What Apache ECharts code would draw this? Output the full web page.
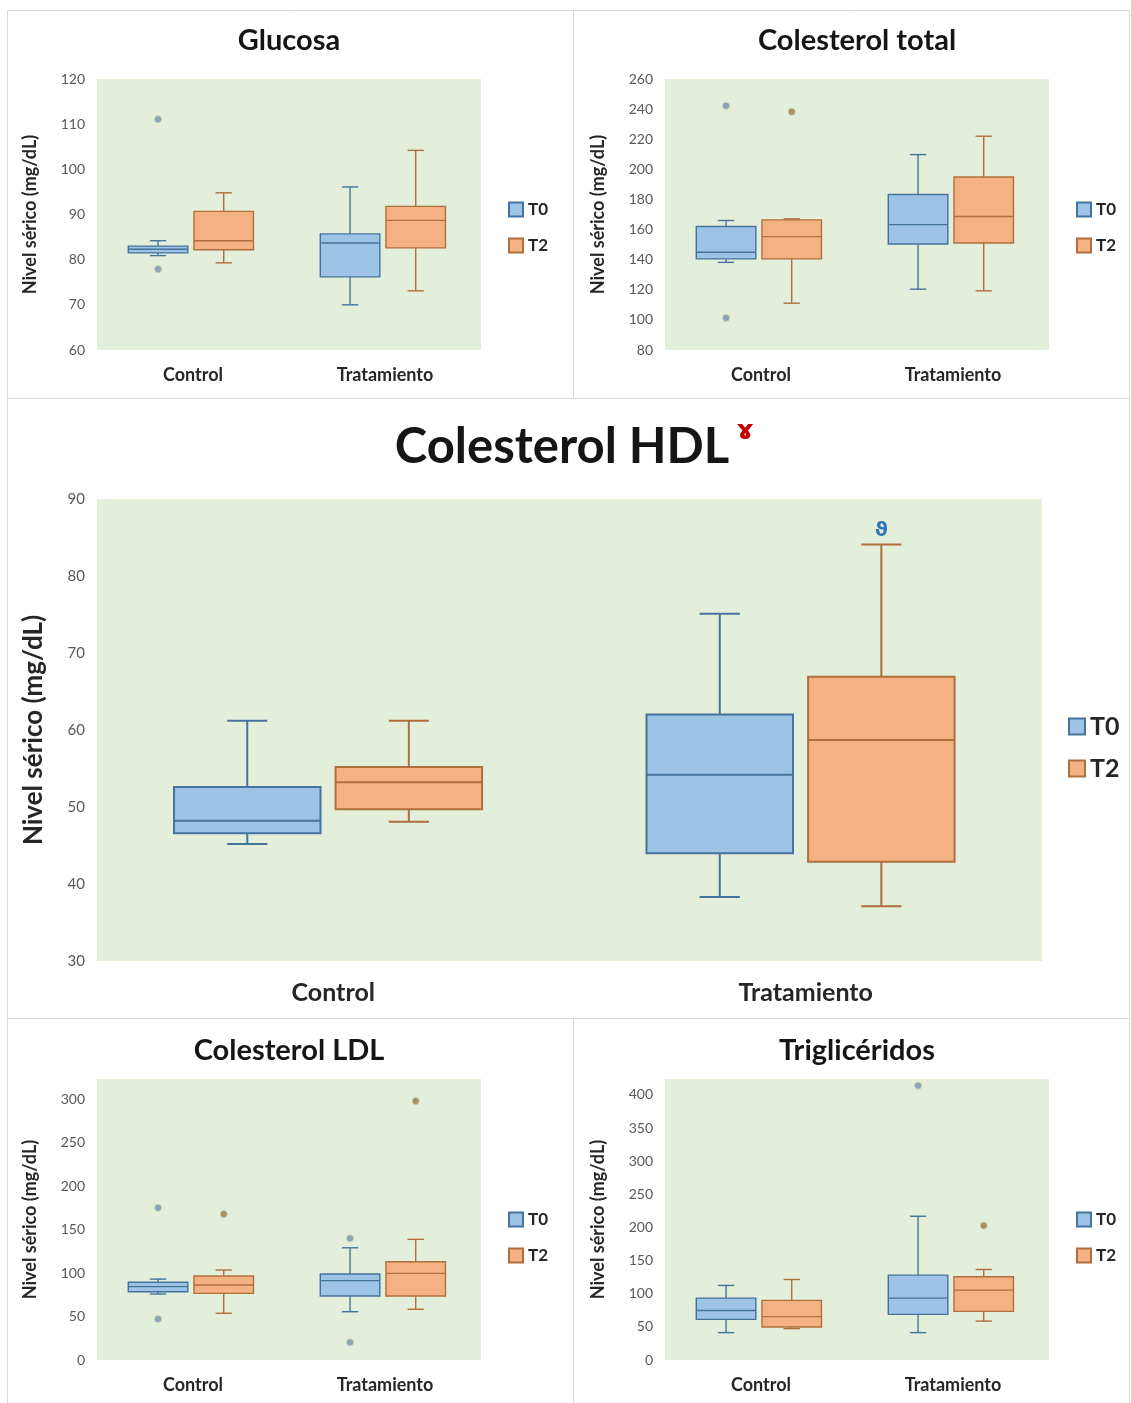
<!DOCTYPE html>
<html>
<head>
<meta charset="utf-8">
<script src="https://cdn.jsdelivr.net/npm/echarts@6/dist/echarts.min.js"></script>
<style>
  html, body { margin: 0; padding: 0; background: #ffffff; }
  #chart { width: 1131px; height: 1403px; }
</style>
</head>
<body>
<div id="chart"></div>
<script>
// ---------------- DATA ----------------
const categories = ['Control', 'Tratamiento'];
const seriesNames = ['T0', 'T2'];
const axisName = 'Nivel sérico (mg/dL)';

// Each box: [min, Q1, median, Q3, max], one per category
const glucosaT0 = [[80.9, 81.5, 82.3, 83.0, 84.2], [70.0, 76.2, 83.7, 85.7, 96.1]];
const glucosaT2 = [[79.3, 82.2, 84.2, 90.7, 94.8], [73.1, 82.6, 88.7, 91.8, 104.2]];
const glucosaT0Out = [[0, 111.1], [0, 77.9]];
const glucosaT2Out = [];

const colTotalT0 = [[138.2, 140.5, 144.9, 162.0, 166.0], [120.4, 150.4, 163.3, 183.3, 209.8]];
const colTotalT2 = [[111.1, 140.5, 155.3, 166.4, 167.1], [119.3, 151.1, 168.7, 194.9, 222.0]];
const colTotalT0Out = [[0, 242.2], [0, 101.3]];
const colTotalT2Out = [[0, 238.2]];

const hdlT0 = [[45.2, 46.6, 48.2, 52.6, 61.2], [38.3, 44.0, 54.2, 62.0, 75.1]];
const hdlT2 = [[48.1, 49.7, 53.2, 55.2, 61.2], [37.1, 42.9, 58.7, 66.9, 84.1]];
const hdlMark = [[1, 84.1, 'ϑ']];

const ldlT0 = [[75.9, 78.5, 84.3, 89.3, 93.0], [55.5, 73.6, 91.2, 98.9, 129.0]];
const ldlT2 = [[53.7, 76.6, 86.2, 96.6, 103.4], [58.3, 73.6, 99.6, 113.0, 138.7]];
const ldlT0Out = [[0, 175.0], [0, 47.1], [1, 139.9], [1, 20.3]];
const ldlT2Out = [[0, 167.8], [1, 297.7]];

const trigT0 = [[41.3, 61.3, 74.8, 93.4, 112.5], [41.3, 68.8, 93.4, 128.0, 216.9]];
const trigT2 = [[47.3, 49.7, 65.4, 89.9, 121.5], [58.7, 73.3, 105.4, 125.6, 136.6]];
const trigT0Out = [[1, 414.0]];
const trigT2Out = [[1, 202.9]];

// Axis ranges: [min, max, interval]
const glucosaAxis = [60, 120, 10];
const colTotalAxis = [80, 260, 20];
const hdlAxis = [30, 90, 10];
const ldlAxis = [0, 323, 50];
const trigAxis = [0, 424, 50];

const titles = ['Glucosa', 'Colesterol total', 'Colesterol HDL', 'Colesterol LDL', 'Triglicéridos'];
const titleMark = 'ɤ';

// ---------------- STYLE ----------------
const FONT = 'Lato, "Open Sans", sans-serif';
const GREEN = '#E3EFDA';
const T0_FILL = '#9DC3E6', T0_STROKE = '#44739C';
const T2_FILL = '#F4B183', T2_STROKE = '#AE6F3D';
const T0_OUT = '#8AA3B8', T2_OUT = '#A88D5E';
const OFF = [-0.182, 0.16];
const BOX_W = 0.31;
const CAP_W = 0.085;

function boxRenderer(offFrac, fill, stroke, lw) {
  return function (params, api) {
    const cat = api.value(0);
    const band = api.size([1, 0])[0];
    const cx = api.coord([cat, api.value(3)])[0] + offFrac * band;
    const w = BOX_W * band, cap = CAP_W * band;
    const y = i => api.coord([cat, api.value(i)])[1];
    const yMin = y(1), yQ1 = y(2), yMed = y(3), yQ3 = y(4), yMax = y(5);
    const ls = { stroke: stroke, lineWidth: lw };
    return {
      type: 'group',
      children: [
        { type: 'line', shape: { x1: cx, y1: yMax, x2: cx, y2: yQ3 }, style: ls },
        { type: 'line', shape: { x1: cx, y1: yQ1, x2: cx, y2: yMin }, style: ls },
        { type: 'line', shape: { x1: cx - cap / 2, y1: yMax, x2: cx + cap / 2, y2: yMax }, style: ls },
        { type: 'line', shape: { x1: cx - cap / 2, y1: yMin, x2: cx + cap / 2, y2: yMin }, style: ls },
        { type: 'rect', shape: { x: cx - w / 2, y: yQ3, width: w, height: yQ1 - yQ3 },
          style: { fill: fill, stroke: stroke, lineWidth: lw } },
        { type: 'line', shape: { x1: cx - w / 2, y1: yMed, x2: cx + w / 2, y2: yMed }, style: ls }
      ]
    };
  };
}

function outRenderer(offFrac, fill, r) {
  return function (params, api) {
    const cat = api.value(0);
    const band = api.size([1, 0])[0];
    const p = api.coord([cat, api.value(1)]);
    return {
      type: 'circle',
      shape: { cx: p[0] + offFrac * band, cy: p[1], r: r },
      style: { fill: fill, stroke: '#C9D6C0', lineWidth: 1 }
    };
  };
}

function markRenderer(offFrac) {
  return function (params, api) {
    const cat = api.value(0);
    const band = api.size([1, 0])[0];
    const p = api.coord([cat, api.value(1)]);
    return {
      type: 'text',
      x: p[0] + offFrac * band, y: p[1] - 14,
      style: { text: hdlMark[params.dataIndex][2], fill: '#2E75B6', font: 'bold 20px "DejaVu Sans", sans-serif',
               align: 'center', verticalAlign: 'middle' }
    };
  };
}

// ---------------- PANELS ----------------
const panels = [
  { g: { left: 97, top: 79, width: 384, height: 271 }, axis: glucosaAxis, t0: glucosaT0, t2: glucosaT2, o0: glucosaT0Out, o2: glucosaT2Out, big: false, legend: { left: 508, top: 201 } },
  { g: { left: 665, top: 79, width: 384, height: 271 }, axis: colTotalAxis, t0: colTotalT0, t2: colTotalT2, o0: colTotalT0Out, o2: colTotalT2Out, big: false, legend: { left: 1076, top: 201 } },
  { g: { left: 97, top: 499, width: 945, height: 462 }, axis: hdlAxis, t0: hdlT0, t2: hdlT2, o0: [], o2: [], big: true, legend: { left: 1068, top: 714 } },
  { g: { left: 97, top: 1079, width: 384, height: 281 }, axis: ldlAxis, t0: ldlT0, t2: ldlT2, o0: ldlT0Out, o2: ldlT2Out, big: false, legend: { left: 508, top: 1211 } },
  { g: { left: 665, top: 1079, width: 384, height: 281 }, axis: trigAxis, t0: trigT0, t2: trigT2, o0: trigT0Out, o2: trigT2Out, big: false, legend: { left: 1076, top: 1211 } }
];

const grid = [], xAxis = [], yAxis = [], series = [], legend = [];
panels.forEach((p, i) => {
  grid.push(Object.assign({ show: true, backgroundColor: GREEN, borderWidth: 0 }, p.g));
  xAxis.push({
    type: 'category', gridIndex: i, data: categories,
    axisLine: { show: false }, axisTick: { show: false }, splitLine: { show: false },
    axisLabel: { color: '#262626', fontFamily: FONT, fontWeight: 'bold',
                 fontSize: p.big ? 25 : 18, margin: p.big ? 19 : 16 }
  });
  yAxis.push({
    type: 'value', gridIndex: i, min: p.axis[0], max: p.axis[1], interval: p.axis[2],
    name: axisName, nameLocation: 'middle', nameRotate: 90, nameGap: p.big ? 50 : 58,
    nameTextStyle: { color: '#262626', fontFamily: FONT, fontWeight: 'bold', fontSize: p.big ? 26 : 18 },
    axisLine: { show: false }, axisTick: { show: false }, splitLine: { show: false },
    axisLabel: { color: '#595959', fontFamily: FONT, fontSize: p.big ? 15 : 14, margin: 12,
                 showMaxLabel: p.axis[1] % p.axis[2] === 0 }
  });
  const lw = p.big ? 2 : 1.4;
  [[p.t0, 0, T0_FILL, T0_STROKE], [p.t2, 1, T2_FILL, T2_STROKE]].forEach(([arr, k, fill, stroke]) => {
    series.push({
      type: 'custom', name: seriesNames[k], xAxisIndex: i, yAxisIndex: i,
      itemStyle: { color: fill, borderColor: stroke, borderWidth: 1 },
      encode: { x: 0, y: [1, 2, 3, 4, 5] },
      data: arr.map((d, c) => [c].concat(d)),
      renderItem: boxRenderer(OFF[k], fill, stroke, lw),
      silent: true
    });
  });
  [[p.o0, 0, T0_OUT], [p.o2, 1, T2_OUT]].forEach(([arr, k, fill]) => {
    if (!arr.length) return;
    series.push({
      type: 'custom', name: seriesNames[k] + ' atípicos', xAxisIndex: i, yAxisIndex: i,
      encode: { x: 0, y: 1 },
      data: arr,
      renderItem: outRenderer(OFF[k], fill, 3.6),
      silent: true
    });
  });
  legend.push({
    data: seriesNames, orient: 'vertical', left: p.legend.left, top: p.legend.top, padding: 0,
    icon: 'rect', itemWidth: p.big ? 16 : 14, itemHeight: p.big ? 16 : 14,
    itemGap: p.big ? 17 : 19, selectedMode: false,
    textStyle: { color: '#262626', fontFamily: FONT, fontWeight: 'bold', fontSize: p.big ? 25 : 17 }
  });
});

series.push({
  type: 'custom', name: 'marca', xAxisIndex: 2, yAxisIndex: 2,
  encode: { x: 0, y: 1 },
  data: hdlMark.map(d => [d[0], d[1]]),
  renderItem: markRenderer(OFF[1]),
  silent: true
});

// ---------------- DECORATION ----------------
const borderStyle = { fill: 'none', stroke: '#D9D9D9', lineWidth: 1 };
const titleText = (x, y, text, size) => ({
  type: 'text', x: x, y: y,
  style: { text: text, font: 'bold ' + size + 'px ' + FONT, fill: '#151515', align: 'center', verticalAlign: 'middle' }
});
const graphic = [
  { type: 'rect', shape: { x: 7.5, y: 10.5, width: 566, height: 388 }, style: borderStyle, silent: true },
  { type: 'rect', shape: { x: 573.5, y: 10.5, width: 556, height: 388 }, style: borderStyle, silent: true },
  { type: 'rect', shape: { x: 7.5, y: 398.5, width: 1122, height: 620 }, style: borderStyle, silent: true },
  { type: 'rect', shape: { x: 7.5, y: 1018.5, width: 566, height: 390 }, style: borderStyle, silent: true },
  { type: 'rect', shape: { x: 573.5, y: 1018.5, width: 556, height: 390 }, style: borderStyle, silent: true },
  titleText(289, 41, titles[0], 29),
  titleText(857, 41, titles[1], 29),
  titleText(562, 447, titles[2], 49),
  { type: 'text', x: 745, y: 432, style: { text: titleMark, font: 'bold 27px "DejaVu Sans", sans-serif', fill: '#C00000', align: 'center', verticalAlign: 'middle' } },
  titleText(289, 1051, titles[3], 29),
  titleText(857, 1051, titles[4], 29)
];

const chart = echarts.init(document.getElementById('chart'), null, { renderer: 'canvas' });
chart.setOption({
  animation: false,
  backgroundColor: '#ffffff',
  grid: grid, xAxis: xAxis, yAxis: yAxis, legend: legend, series: series, graphic: graphic
});
</script>
</body>
</html>
